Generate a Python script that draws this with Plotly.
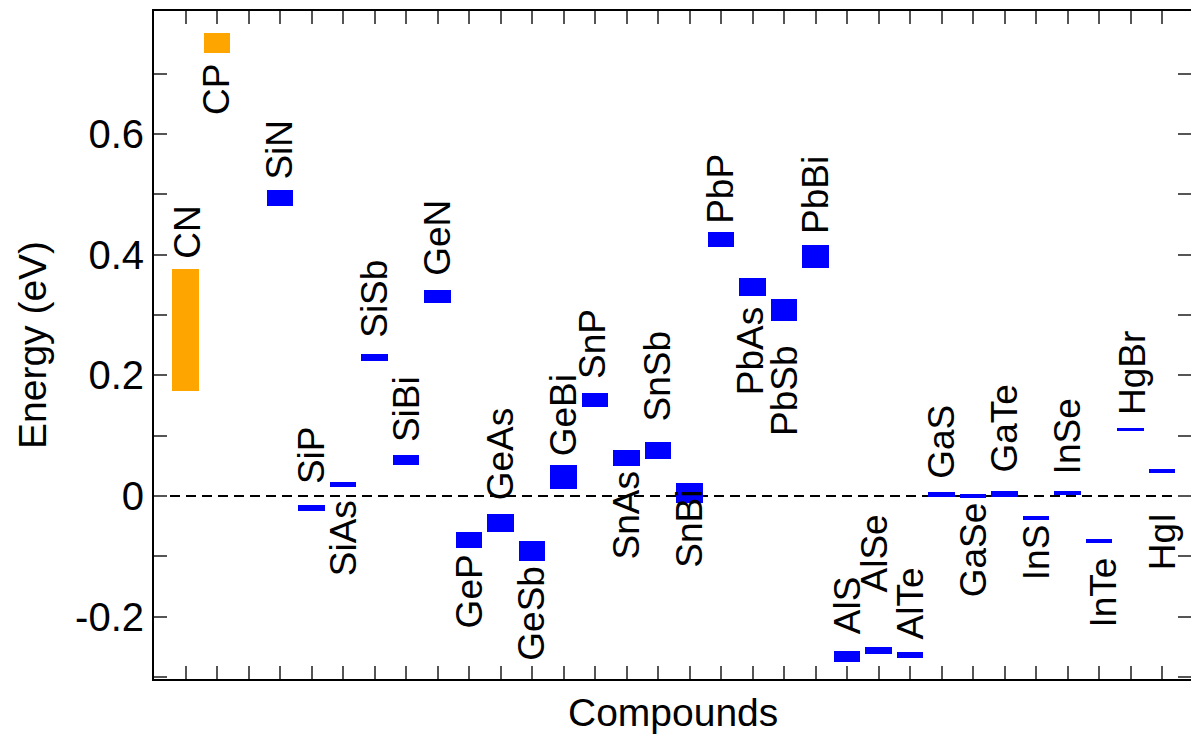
import plotly.graph_objects as go

compounds = ["CN", "CP", "SiN", "SiP", "SiAs", "SiSb", "SiBi", "GeN", "GeP", "GeAs",
             "GeSb", "GeBi", "SnP", "SnAs", "SnSb", "SnBi", "PbP", "PbAs", "PbSb", "PbBi",
             "AlS", "AlSe", "AlTe", "GaS", "GaSe", "GaTe", "InS", "InSe", "InTe", "HgBr", "HgI"]
positions = [1, 2, 4, 5, 6, 7, 8, 9, 10, 11, 12, 13, 14, 15, 16, 17, 18, 19, 20, 21,
             22, 23, 24, 25, 26, 27, 28, 29, 30, 31, 32]
e_low = [0.174, 0.734, 0.480, -0.024, 0.015, 0.224, 0.051, 0.320, -0.086, -0.060,
         -0.107, 0.012, 0.148, 0.050, 0.061, -0.011, 0.413, 0.331, 0.290, 0.378,
         -0.275, -0.261, -0.268, -0.001, -0.004, -0.001, -0.040, 0.002, -0.078, 0.108, 0.038]
e_high = [0.377, 0.767, 0.507, -0.015, 0.024, 0.236, 0.068, 0.342, -0.059, -0.030,
          -0.074, 0.051, 0.171, 0.076, 0.089, 0.021, 0.438, 0.362, 0.326, 0.416,
          -0.257, -0.250, -0.258, 0.007, 0.003, 0.008, -0.033, 0.008, -0.072, 0.112, 0.045]
# vertical centre of each compound's rotated name label (eV)
label_y = [0.437, 0.673, 0.574, 0.067, -0.070, 0.326, 0.144, 0.427, -0.158, 0.070,
           -0.195, 0.133, 0.252, -0.033, 0.198, -0.055, 0.509, 0.239, 0.174, 0.498,
           -0.181, -0.096, -0.178, 0.089, -0.090, 0.111, -0.093, 0.098, -0.160, 0.203, -0.075]
carbon = ["CN", "CP"]
y_ticks = [-0.2, 0, 0.2, 0.4, 0.6]
y_tick_text = ["-0.2", "0", "0.2", "0.4", "0.6"]
y_minor = [-0.3, -0.1, 0.1, 0.3, 0.5, 0.7]
y_all_ticks = [-0.3, -0.2, -0.1, 0, 0.1, 0.2, 0.3, 0.4, 0.5, 0.6, 0.7]

FONT = "Liberation Sans, Arial, Helvetica, sans-serif"
Y_RANGE = [-0.3032, 0.8037]
colors = ["#FFA500" if c in carbon else "#0000FF" for c in compounds]
# small horizontal nudges (px) of a few labels, as in the original layout
label_nudge = {"CN": 2, "AlSe": -4, "InTe": 5, "HgBr": 2, "SnP": -2, "PbAs": -2}

fig = go.Figure()
fig.add_trace(go.Bar(
    x=positions,
    y=[h - l for l, h in zip(e_low, e_high)],
    base=e_low,
    width=0.85,
    marker=dict(color=colors, line=dict(width=0)),
    hovertext=compounds,
    showlegend=False,
))
# empty trace so the right-hand tick axis is drawn
fig.add_trace(go.Scatter(x=[None], y=[None], yaxis="y2", showlegend=False,
                         hoverinfo="skip"))

for p, name, ly in zip(positions, compounds, label_y):
    fig.add_annotation(x=p, y=ly, xref="x", yref="y", text=name, textangle=-90,
                       showarrow=False, xanchor="center", yanchor="middle",
                       xshift=label_nudge.get(name, 0),
                       font=dict(family=FONT, size=37, color="black"))

fig.add_shape(type="line", xref="x domain", yref="y", x0=0, x1=1, y0=0, y1=0,
              line=dict(color="black", width=2, dash="10px,6px"), layer="below")

fig.add_annotation(text="Compounds", xref="paper", yref="paper", x=0.5, y=0,
                   yshift=-33, xanchor="center", yanchor="middle", showarrow=False,
                   font=dict(family=FONT, size=39, color="black"))
fig.add_annotation(text="Energy (eV)", xref="paper", yref="paper", x=0, y=0.5,
                   xshift=-122, xanchor="center", yanchor="middle", showarrow=False,
                   textangle=-90, font=dict(family=FONT, size=39, color="black"))

fig.update_layout(
    width=1191, height=736,
    margin=dict(l=154, r=0, t=11, b=57),
    paper_bgcolor="white", plot_bgcolor="white",
    font=dict(family=FONT, size=38, color="black"),
    bargap=0,
    xaxis=dict(range=[0, 32.92], showgrid=False, zeroline=False, showline=True,
               linewidth=2, linecolor="black", mirror="ticks", ticks="inside",
               ticklen=13, tickwidth=1.5, tickcolor="#555", tickmode="linear",
               tick0=0, dtick=1, showticklabels=False),
    yaxis=dict(range=Y_RANGE, showgrid=False, zeroline=False, showline=True,
               linewidth=2, linecolor="black", mirror=False, ticks="inside",
               ticklen=13, tickwidth=1.5, tickcolor="#555", tickmode="array",
               tickvals=y_ticks, ticktext=y_tick_text,
               tickfont=dict(family=FONT, size=40, color="black"),
               minor=dict(tickmode="array", tickvals=y_minor, ticks="inside",
                          ticklen=13, tickwidth=1.5, tickcolor="#555")),
    yaxis2=dict(range=Y_RANGE, overlaying="y", side="right", anchor="x",
                showgrid=False, zeroline=False, showline=False, ticks="inside",
                ticklen=13, tickwidth=1.5, tickcolor="#555", tickmode="array",
                tickvals=y_all_ticks, showticklabels=False),
)

fig.write_html("out.html", config={"displayModeBar": False},
               post_script="document.body.style.margin='0px';")
